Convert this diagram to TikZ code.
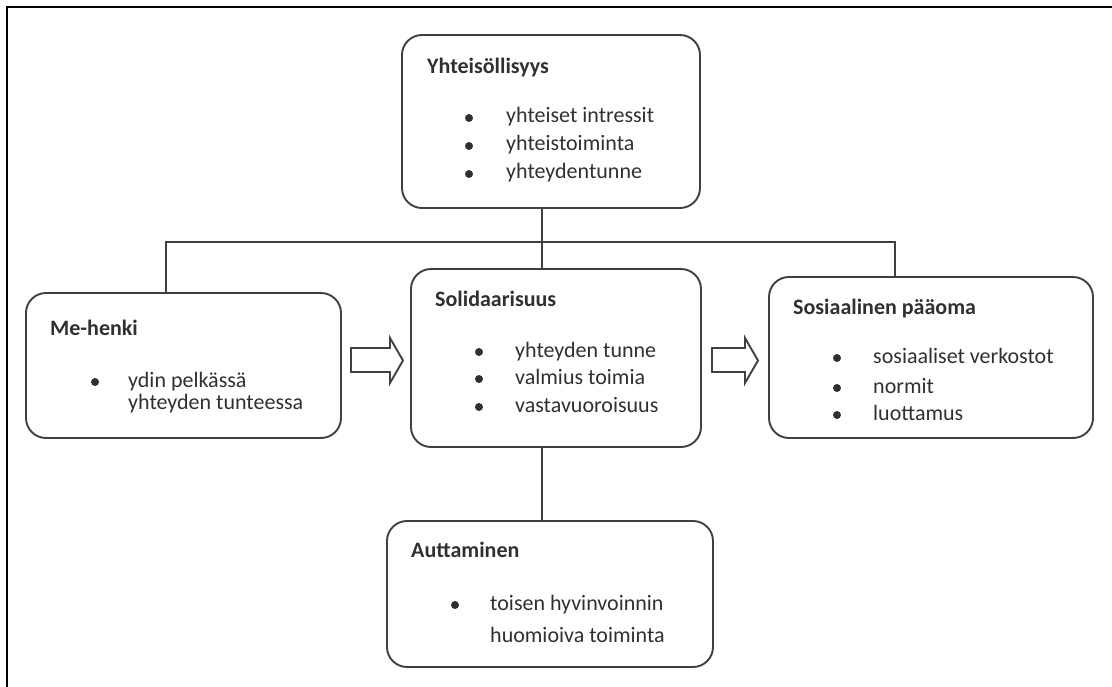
\documentclass[tikz,border=0pt]{standalone}
\usepackage{fontspec}
\setmainfont{Carlito}
\definecolor{ink}{HTML}{303030}
\definecolor{edge}{HTML}{404040}
\tikzset{
  box/.style={draw=edge, line width=1.9pt, rounded corners=20pt, inner sep=0pt},
  ttl/.style={anchor=base west, inner sep=0pt, text=ink, font=\fontsize{22}{26}\selectfont\bfseries},
  itm/.style={anchor=base west, inner sep=0pt, text=ink, font=\fontsize{22}{26}\selectfont},
  dot/.style={circle, fill=ink, minimum size=8pt, inner sep=0pt},
  conn/.style={draw=edge, line width=1.9pt},
  blockarrow/.style={draw=edge, line width=1.9pt, line join=miter}
}
\begin{document}
\begin{tikzpicture}[x=1pt, y=-1pt]
\useasboundingbox (0,0) rectangle (1112,687);
% page frame (top and left edges)
\draw[line width=2.4pt, black] (7,687) -- (7,7) -- (1112,7);

% boxes
\node[box, minimum width=298pt, minimum height=173pt] (top) at (551,121.5) {};
\node[box, minimum width=315pt, minimum height=145pt] (me) at (183.5,365.5) {};
\node[box, minimum width=290pt, minimum height=178pt] (sol) at (556,358) {};
\node[box, minimum width=324pt, minimum height=161pt] (sos) at (931,357.5) {};
\node[box, minimum width=326pt, minimum height=146pt] (aut) at (550,594) {};

% Yhteisöllisyys
\node[ttl] (topT) at (427,74) {Yhteisöllisyys};
\node[dot] (topB1) at (469,118) {};
\node[dot] (topB2) at (469,146) {};
\node[dot] (topB3) at (469,174) {};
\node[itm] (topI1) at (506,123) {yhteiset intressit};
\node[itm] (topI2) at (506,151) {yhteistoiminta};
\node[itm] (topI3) at (506,179) {yhteydentunne};

% Me-henki
\node[ttl] (meT) at (50,335) {Me-henki};
\node[dot] (meB1) at (95,382) {};
\node[itm] (meI1) at (128,387) {ydin pelkässä};
\node[itm] (meI2) at (128,409) {yhteyden tunteessa};

% Solidaarisuus
\node[ttl] (solT) at (435,307) {Solidaarisuus};
\node[dot] (solB1) at (479,352) {};
\node[dot] (solB2) at (479,379) {};
\node[dot] (solB3) at (479,407) {};
\node[itm] (solI1) at (515,357) {yhteyden tunne};
\node[itm] (solI2) at (515,384) {valmius toimia};
\node[itm] (solI3) at (515,412) {vastavuoroisuus};

% Sosiaalinen pääoma
\node[ttl] (sosT) at (793,315) {Sosiaalinen pääoma};
\node[dot] (sosB1) at (837,358) {};
\node[dot] (sosB2) at (837,388) {};
\node[dot] (sosB3) at (837,415) {};
\node[itm] (sosI1) at (873,363) {sosiaaliset verkostot};
\node[itm] (sosI2) at (873,393) {normit};
\node[itm] (sosI3) at (873,420) {luottamus};

% Auttaminen
\node[ttl] (autT) at (411,557) {Auttaminen};
\node[dot] (autB1) at (455,605) {};
\node[itm] (autI1) at (490,610) {toisen hyvinvoinnin};
\node[itm] (autI2) at (490,642) {huomioiva toiminta};

% block arrows
\draw[blockarrow] (351,348) -- (390,348) -- (390,338) -- (403,360.5) -- (390,383) -- (390,372) -- (351,372) -- cycle;
\draw[blockarrow] (712,348) -- (745,348) -- (745,338) -- (758,360.5) -- (745,383) -- (745,372) -- (712,372) -- cycle;

% connectors
\coordinate (jl) at (166,242);
\coordinate (jc) at (542,242);
\coordinate (jr) at (895,242);
\draw[conn] (jc |- top.south) -- (jc);
\draw[conn] (jl |- me.north) -- (jl) -- (jr) -- (jr |- sos.north);
\draw[conn] (jc) -- (jc |- sol.north);
\draw[conn] (jc |- sol.south) -- (jc |- aut.north);
\end{tikzpicture}
\end{document}
